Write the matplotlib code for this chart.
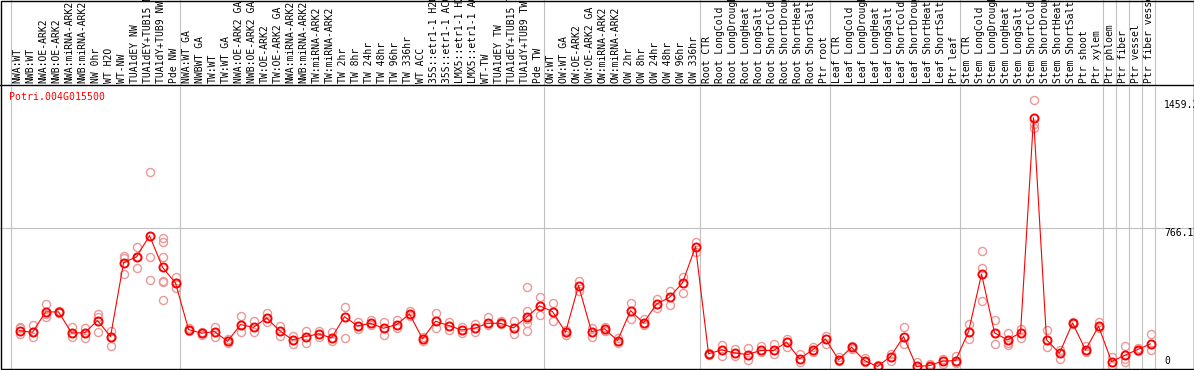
import matplotlib
matplotlib.use('Agg')
import matplotlib.pyplot as plt
from matplotlib.patches import Rectangle

gene = 'Potri.004G015500'

samples = [
    'NWA:WT', 'NWB:WT', 'NWA:OE-ARK2', 'NWB:OE-ARK2', 'NWA:miRNA-ARK2', 'NWB:miRNA-ARK2',
    'NW 0hr', 'WT H2O', 'WT-NW', 'TUA1dEY NW', 'TUA1dEY+TUB15 NW', 'TUA1dY+TUB9 NW', 'Pde NW',
    'NWA:WT GA', 'NWBWT GA', 'TW:WT', 'TW:WT GA', 'NWA:OE-ARK2 GA', 'NWB:OE-ARK2 GA',
    'TW:OE-ARK2', 'TW:OE-ARK2 GA', 'NWA:miRNA-ARK2', 'NWB:miRNA-ARK2', 'TW:miRNA-ARK2',
    'TW:miRNA-ARK2', 'TW 2hr', 'TW 8hr', 'TW 24hr', 'TW 48hr', 'TW 96hr', 'TW 336hr',
    'WT ACC', '35S::etr1-1 H2O', '35S::etr1-1 ACC', 'LMX5::etr1-1 H2O', 'LMX5::etr1-1 ACC',
    'WT-TW', 'TUA1dEY TW', 'TUA1dEY+TUB15 TW', 'TUA1dY+TUB9 TW', 'Pde TW',
    'OW:WT', 'OW:WT GA', 'OW:OE-ARK2', 'OW:OE-ARK2 GA', 'OW:miRNA-ARK2', 'OW:miRNA-ARK2',
    'OW 2hr', 'OW 8hr', 'OW 24hr', 'OW 48hr', 'OW 96hr', 'OW 336hr',
    'Root CTR', 'Root LongCold', 'Root LongDrought', 'Root LongHeat', 'Root LongSalt',
    'Root ShortCold', 'Root ShortDrought', 'Root ShortHeat', 'Root ShortSalt', 'Ptr root',
    'Leaf CTR', 'Leaf LongCold', 'Leaf LongDrought', 'Leaf LongHeat', 'Leaf LongSalt',
    'Leaf ShortCold', 'Leaf ShortDrought', 'Leaf ShortHeat', 'Leaf ShortSalt', 'Ptr leaf',
    'Stem CTR', 'Stem LongCold', 'Stem LongDrought', 'Stem LongHeat', 'Stem LongSalt',
    'Stem ShortCold', 'Stem ShortDrought', 'Stem ShortHeat', 'Stem ShortSalt', 'Ptr shoot',
    'Ptr xylem', 'Ptr phloem', 'Ptr fiber', 'Ptr vessel', 'Ptr fiber vessel',
]

means = [
    206, 197, 308, 308, 194, 194, 261, 174, 576, 608, 723, 551, 465,
    212, 192, 201, 148, 239, 224, 275, 206, 156, 174, 188, 167, 282, 232, 246, 219,
    239, 297, 161, 257, 234, 210, 219, 246, 246, 221, 279, 341,
    310, 197, 451, 201, 216, 152, 315, 248, 351, 387, 467, 663,
    80, 101, 85, 76, 98, 98, 143, 53, 101, 161,
    47, 116, 43, 11, 65, 174, 11, 16, 40, 43,
    201, 514, 194, 156, 194, 1365, 156, 83, 248, 101, 230,
    38, 71, 103, 134,
]

reps = [
    [228, 219, 188], [239, 197, 170], [351, 282, 295], [308, 300, 312], [224, 194, 170],
    [219, 194, 166], [297, 280, 196], [206, 174, 123], [614, 600, 514], [659, 608, 547],
    [1067, 605, 482], [710, 686, 605, 478, 470, 373], [496, 465, 438],
    [220, 205], [197, 181], [228, 174], [160, 137], [288, 196], [257, 197], [301, 255],
    [232, 179], [179, 134], [203, 141], [206, 170], [196, 148], [337, 167], [252, 214],
    [264, 239], [252, 185], [262, 221], [315, 288], [174, 150], [304, 221], [252, 210],
    [228, 192], [241, 197], [282, 235], [260, 240], [261, 188], [446, 315, 270, 250, 206],
    [391, 292],
    [359, 257], [210, 185], [478, 420], [219, 174], [228, 206], [165, 140], [357, 270],
    [270, 235], [377, 330], [424, 346], [500, 413], [688, 632],
    [85, 75], [130, 69], [105, 69], [110, 47], [123, 89], [134, 80], [161, 116], [80, 34],
    [116, 88], [179, 134],
    [60, 40], [125, 105], [55, 35], [20, 5], [80, 43], [228, 134], [34, 5], [25, 8],
    [50, 22], [69, 30],
    [243, 161], [641, 545, 369], [264, 134], [194, 129, 140], [216, 165], [1459, 1311, 1330],
    [212, 116], [100, 49], [255, 240], [125, 90], [252, 218],
    [61, 11], [125, 38, 50], [110, 96], [188, 101],
]

group_edges = [0, 13, 41, 53, 63, 73, 84, 85, 86, 87, 88]
y_max = 1459.2
y_top = y_max * 1.05

W, H = 1194, 370
mono = 'DejaVu Sans Mono'
grid_c = '#c0c0c0'

fig = plt.figure(figsize=(W / 100, H / 100), dpi=100)
xl = (-10.7 / 13, (W - 10.7) / 13)

# plot area
ax = fig.add_axes([0, 1.5 / H, 1, (368.5 - 87) / H])
ax.set_xlim(*xl)
ax.set_ylim(0, y_top)
ax.axis('off')

# header with sample names
axh = fig.add_axes([0, (H - 85.3) / H, 1, 85.3 / H])
axh.set_xlim(*xl)
axh.set_ylim(0, 85.3)
axh.axis('off')
axh.axhline(0, color='black', lw=1, clip_on=False)

for e in group_edges:
    ax.axvline(e, color=grid_c, lw=0.8, zorder=0)
    axh.axvline(e, color=grid_c, lw=0.8, zorder=0)
ax.axhline(y_top / 2, color=grid_c, lw=0.8, zorder=0)

for i, s in enumerate(samples):
    axh.text(i + 0.55, 2.0, s, rotation=90, ha='center', va='bottom',
             fontsize=7, family=mono, clip_on=True)

xs = [i + 0.68 for i in range(len(means))]
for x, r in zip(xs, reps):
    ax.plot([x] * len(r), r, 'o', mfc='none', mec='#ec9898', ms=5.8, mew=1.0, zorder=2)
ax.plot(xs, means, color='red', lw=0.8, zorder=3)
ax.plot(xs, means, 'o', mfc='none', mec='red', ms=5.8, mew=1.4, zorder=4)

ax.text(-0.11, 1507, gene, color='red', fontsize=7.1, family=mono, va='top', ha='left')

lx = (1164 - 10.7) / 13
ax.text(lx, y_max, f'{y_max:.1f}', fontsize=7, family=mono, va='top', ha='left')
ax.text(lx, y_top / 2, f'{y_top / 2:.1f}', fontsize=7, family=mono, va='top', ha='left')
ax.annotate('0', (lx, 0), xytext=(0, 1.8), textcoords='offset points',
            fontsize=7, family=mono, va='bottom', ha='left')

fig.add_artist(Rectangle((1 / W, 1.5 / H), (1193.5 - 1) / W, (H - 2) / H,
                         transform=fig.transFigure, fill=False, ec='black', lw=1))

fig.savefig('out.png', dpi=100)
